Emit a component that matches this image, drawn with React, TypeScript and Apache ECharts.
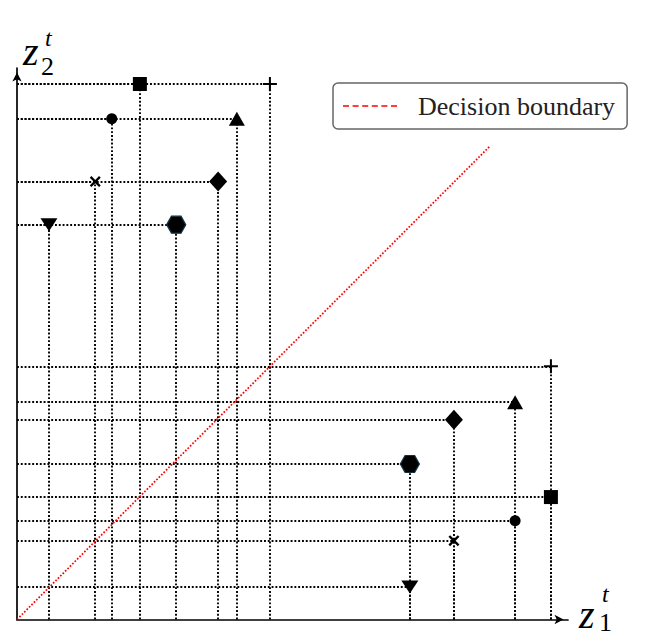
import React, { useEffect, useRef } from "react";
import * as echarts from "echarts";

// Marker shapes, in the order used by the coordinate arrays below
const shapes = ["square", "plus", "circle", "triangle", "cross", "diamond", "triangleDown", "hexagon"];
// Upper-left cluster (z1, z2)
const upperX = [2.23, 4.59, 1.72, 3.99, 1.42, 3.65, 0.58, 2.89];
const upperY = [9.71, 9.71, 9.08, 9.08, 7.94, 7.94, 7.16, 7.16];
// Lower-right cluster (z1, z2)
const lowerX = [9.69, 9.69, 9.04, 9.04, 7.93, 7.93, 7.13, 7.13];
const lowerY = [2.22, 4.59, 1.79, 3.94, 1.43, 3.62, 0.59, 2.82];
// Decision boundary end points
const boundaryX = [0, 8.58];
const boundaryY = [0, 8.58];
const legendLabel = "Decision boundary";

const symbolDefs: Record<string, { symbol: string; size: number | number[]; rotate?: number; border?: string }> = {
  square: { symbol: "rect", size: 14 },
  plus: { symbol: "path://M6,0H8V6H14V8H8V14H6V8H0V6H6Z", size: 14 },
  circle: { symbol: "circle", size: 11 },
  triangle: { symbol: "triangle", size: [16, 14] },
  cross: {
    symbol: "path://M0,1.7L1.7,0L5.5,3.8L9.3,0L11,1.7L7.2,5.5L11,9.3L9.3,11L5.5,7.2L1.7,11L0,9.3L3.8,5.5Z",
    size: 11,
  },
  diamond: { symbol: "diamond", size: [18, 20] },
  triangleDown: { symbol: "triangle", size: [17, 13], rotate: 180 },
  hexagon: { symbol: "path://M0,8.5L4.75,0H14.25L19,8.5L14.25,17H4.75Z", size: [19, 17], border: "#123040" },
};

// dashed legend sample: six dashes
const dashIcon =
  "path://" +
  [0, 1, 2, 3, 4, 5].map((k) => `M${k * 9.6},0h6v1.5h-6z`).join(" ");

export default function App() {
  const ref = useRef<HTMLDivElement>(null);
  useEffect(() => {
    if (!ref.current) return;
    const chart = echarts.init(ref.current, null, { renderer: "svg" });

    const guideLines: any[] = [];
    const addGuides = (xs: number[], ys: number[]) => {
      xs.forEach((x, i) => {
        const y = ys[i];
        guideLines.push({ coords: [[x, 0], [x, y]] });
        guideLines.push({ coords: [[0, y], [x, y]] });
      });
    };
    addGuides(upperX, upperY);
    addGuides(lowerX, lowerY);

    const scatterSeries = shapes.map((s, i) => {
      const d = symbolDefs[s];
      return {
        type: "scatter",
        name: s,
        symbol: d.symbol,
        symbolSize: d.size,
        symbolRotate: d.rotate || 0,
        z: 5,
        itemStyle: {
          color: "#000",
          opacity: 1,
          borderColor: d.border || "#000",
          borderWidth: d.border ? 1.2 : 0,
        },
        data: [
          [upperX[i], upperY[i]],
          [lowerX[i], lowerY[i]],
        ],
      };
    });

    const serif = "'Liberation Serif', 'DejaVu Serif', serif";
    const mkText = (text: string, x: number, y: number, size: number, italic: boolean) => ({
      type: "text",
      x,
      y,
      style: {
        text,
        font: `${italic ? "italic " : ""}${size}px ${serif}`,
        fill: "#000",
        textAlign: "left",
        textVerticalAlign: "middle",
        verticalAlign: "middle",
      },
    });

    chart.setOption({
      animation: false,
      backgroundColor: "#fff",
      grid: { left: 17, right: 97, top: 68, bottom: 24.5 },
      xAxis: {
        type: "value",
        min: 0,
        max: 10,
        axisLine: {
          show: true,
          onZero: false,
          symbol: ["none", "arrow"],
          symbolSize: [7, 9],
          symbolOffset: [0, -4.5],
          lineStyle: { color: "#000", width: 1.7 },
        },
        axisTick: { show: false },
        axisLabel: { show: false },
        splitLine: { show: false },
      },
      yAxis: {
        type: "value",
        min: 0,
        max: 10,
        axisLine: {
          show: true,
          onZero: false,
          symbol: ["none", "arrow"],
          symbolSize: [7, 9],
          symbolOffset: [0, -4.5],
          lineStyle: { color: "#000", width: 1.7 },
        },
        axisTick: { show: false },
        axisLabel: { show: false },
        splitLine: { show: false },
      },
      legend: {
        data: [{ name: legendLabel, icon: dashIcon }],
        left: 333,
        top: 83,
        padding: [10, 12, 10, 10],
        itemWidth: 54,
        itemHeight: 1.5,
        backgroundColor: "#fff",
        borderColor: "#666",
        borderWidth: 1.5,
        borderRadius: 5,
        itemStyle: { color: "#ff0000" },
        textStyle: {
          fontFamily: serif,
          fontSize: 26,
          color: "#222",
          padding: [0, 0, 0, 16],
        },
      },
      series: [
        {
          type: "lines",
          coordinateSystem: "cartesian2d",
          polyline: false,
          silent: true,
          z: 2,
          lineStyle: { color: "#000", width: 1.9, type: [1.9, 1.9], opacity: 1 },
          data: guideLines,
        },
        {
          type: "line",
          name: legendLabel,
          symbol: "none",
          z: 3,
          lineStyle: { color: "#ff0000", width: 1.7, type: [1.7, 1.7] },
          itemStyle: { color: "#ff0000" },
          data: boundaryX.map((x, i) => [x, boundaryY[i]]),
        },
        ...scatterSeries,
      ],
      graphic: [
        mkText("z", 23, 51, 40, true),
        mkText("2", 41, 66, 26, false),
        mkText("t", 45, 38, 24, true),
        mkText("z", 579, 614, 40, true),
        mkText("1", 599, 622, 26, false),
        mkText("t", 602, 594, 24, true),
      ],
    });
    return () => chart.dispose();
  }, []);
  return <div ref={ref} style={{ position: "absolute", left: 0, top: 0, width: 665, height: 644 }} />;
}
